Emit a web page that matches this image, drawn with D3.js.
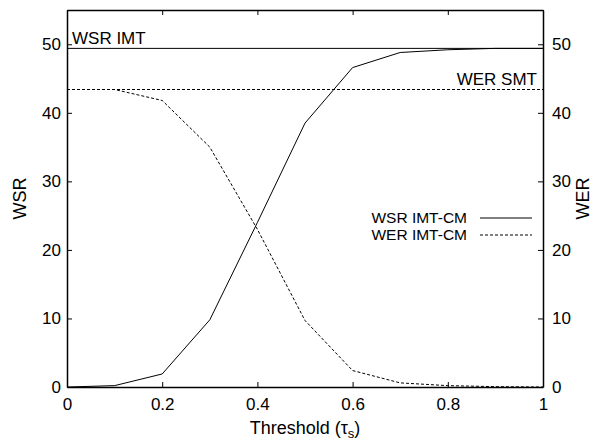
<!DOCTYPE html>
<html>
<head>
<meta charset="utf-8">
<script src="https://cdn.jsdelivr.net/npm/d3@7"></script>
<style>
body { margin: 0; background: #fff; }
text { font-family: "Liberation Sans", Arial, sans-serif; fill: #000; }
</style>
</head>
<body>
<div id="chart"></div>
<script>
// thresholds
var thresholds = [0, 0.1, 0.2, 0.3, 0.4, 0.5, 0.6, 0.7, 0.8, 0.9, 1.0];
var wsrImtCm = [0, 0.2, 1.9, 9.8, 24.0, 38.5, 46.6, 48.8, 49.2, 49.4, 49.4];
var werImtCm = [43.4, 43.4, 41.8, 35.0, 23.0, 9.7, 2.4, 0.6, 0.2, 0.05, 0];
var wsrImt = 49.4;   // baseline WSR
var werSmt = 43.4;   // baseline WER
var xTicks = [0, 0.2, 0.4, 0.6, 0.8, 1];
var yTicks = [0, 10, 20, 30, 40, 50];

var width = 597, height = 441;
var margin = {left: 67, right: 54, top: 10, bottom: 54};

var svg = d3.select("#chart").append("svg")
	.attr("width", width)
	.attr("height", height);

var x = d3.scaleLinear().domain([0, 1]).range([margin.left, width - margin.right]);
var y = d3.scaleLinear().domain([0, 55]).range([height - margin.bottom, margin.top]);

var fs = 17;

// axes, ticks inward
var tickLen = 5;
svg.append("g").attr("transform", "translate(0," + y(0) + ")")
	.call(d3.axisBottom(x).tickValues(xTicks).tickSizeInner(-tickLen).tickSizeOuter(0).tickPadding(11).tickFormat(d3.format("")))
	.call(styleAxis);
svg.append("g").attr("transform", "translate(0," + y(55) + ")")
	.call(d3.axisTop(x).tickValues(xTicks).tickSizeInner(-tickLen).tickSizeOuter(0).tickFormat(""))
	.call(styleAxis);
svg.append("g").attr("transform", "translate(" + x(0) + ",0)")
	.call(d3.axisLeft(y).tickValues(yTicks).tickSizeInner(-tickLen).tickSizeOuter(0).tickPadding(6))
	.call(styleAxis);
svg.append("g").attr("transform", "translate(" + x(1) + ",0)")
	.call(d3.axisRight(y).tickValues(yTicks).tickSizeInner(-tickLen).tickSizeOuter(0).tickPadding(9))
	.call(styleAxis);

function styleAxis(g) {
	g.select(".domain").attr("stroke", "#000").attr("stroke-width", 1.5);
	g.selectAll(".tick line").attr("stroke", "#000");
	g.selectAll(".tick text").style("font-size", fs + "px").attr("fill", "#000");
	g.attr("font-family", null);
}

// baselines
svg.append("line")
	.attr("x1", x(0)).attr("x2", x(1))
	.attr("y1", y(wsrImt)).attr("y2", y(wsrImt))
	.attr("stroke", "#000").attr("stroke-width", 1);
svg.append("line")
	.attr("x1", x(0)).attr("x2", x(1))
	.attr("y1", y(werSmt)).attr("y2", y(werSmt))
	.attr("stroke", "#000").attr("stroke-width", 1).attr("stroke-dasharray", "3,2");

svg.append("text").attr("x", x(0) + 5).attr("y", y(wsrImt) - 4)
	.style("font-size", fs + "px").text("WSR IMT");
svg.append("text").attr("x", x(1) - 6).attr("y", y(werSmt) - 5)
	.attr("text-anchor", "end").style("font-size", fs + "px").text("WER SMT");

// curves
var line = d3.line()
	.x(function(d) { return x(d[0]); })
	.y(function(d) { return y(d[1]); });

svg.append("path")
	.datum(d3.zip(thresholds, wsrImtCm))
	.attr("d", line)
	.attr("fill", "none").attr("stroke", "#000").attr("stroke-width", 1);
svg.append("path")
	.datum(d3.zip(thresholds, werImtCm))
	.attr("d", line)
	.attr("fill", "none").attr("stroke", "#000").attr("stroke-width", 1).attr("stroke-dasharray", "3,2");

// legend
var legend = [
	{label: "WSR IMT-CM", dash: null},
	{label: "WER IMT-CM", dash: "3,2"}
];
var lg = svg.selectAll(".legend").data(legend).enter().append("g")
	.attr("class", "legend")
	.attr("transform", function(d, i) { return "translate(0," + (218 + i * 17) + ")"; });
lg.append("text").attr("x", 467).attr("y", 0).attr("dy", "0.35em")
	.attr("text-anchor", "end").style("font-size", "15.5px")
	.text(function(d) { return d.label; });
lg.append("line").attr("x1", 480).attr("x2", 532)
	.attr("stroke", "#000").attr("stroke-width", 1)
	.attr("stroke-dasharray", function(d) { return d.dash; });

// axis titles
svg.append("text")
	.attr("transform", "translate(20," + y(27.5) + ") rotate(-90)")
	.attr("dy", "0.35em")
	.attr("text-anchor", "middle").style("font-size", "18px").text("WSR");
svg.append("text")
	.attr("transform", "translate(583," + y(27.5) + ") rotate(-90)")
	.attr("dy", "0.35em")
	.attr("text-anchor", "middle").style("font-size", "18px").text("WER");

var xt = svg.append("text")
	.attr("x", x(0.5)).attr("y", 434)
	.attr("text-anchor", "middle").style("font-size", "18px");
xt.append("tspan").text("Threshold (τ");
xt.append("tspan").attr("dy", 4).style("font-size", "13px").text("s");
xt.append("tspan").attr("dy", -4).text(")");
</script>
</body>
</html>
